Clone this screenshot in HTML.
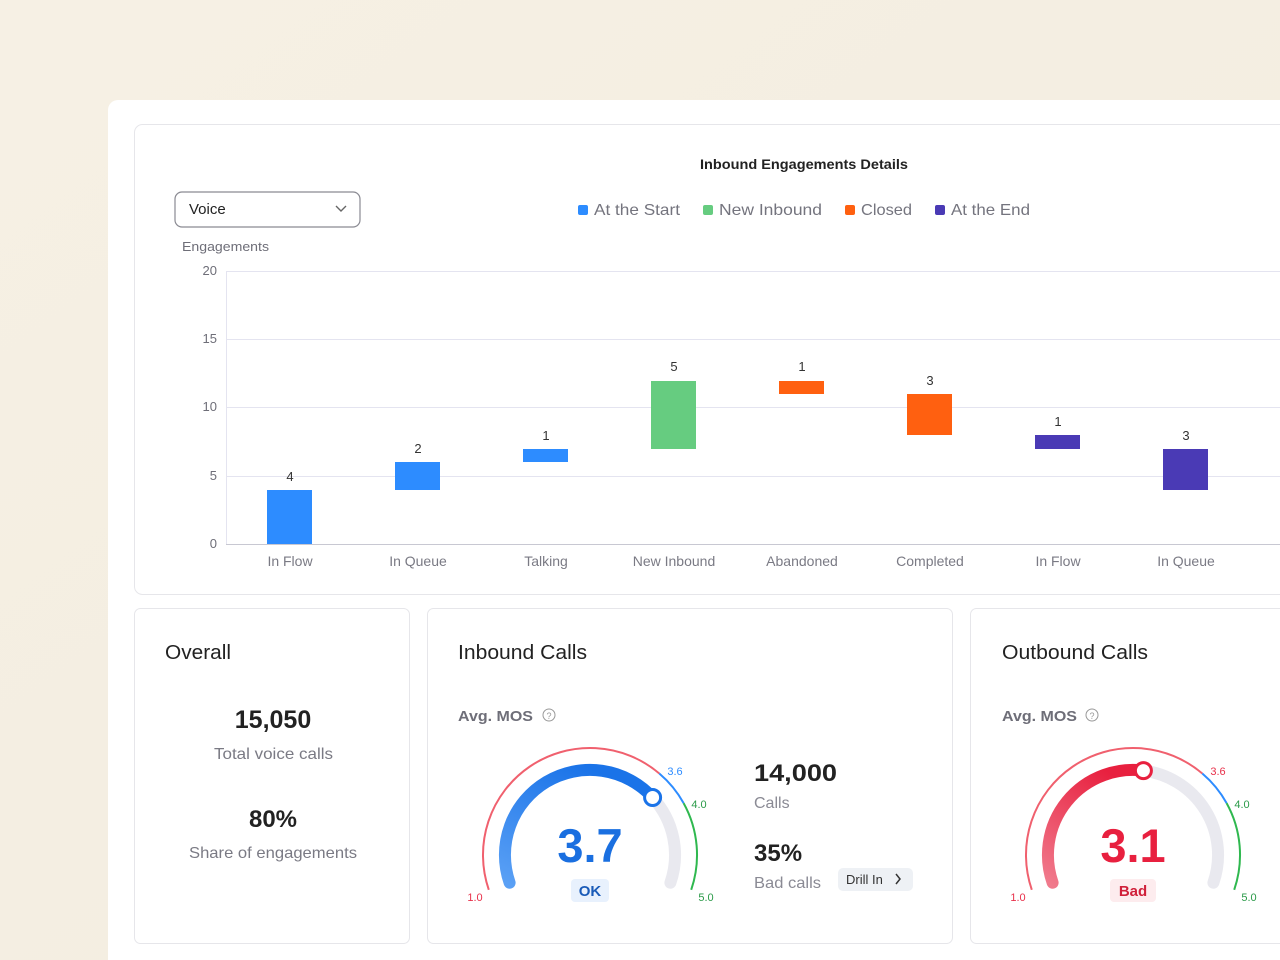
<!DOCTYPE html>
<html><head><meta charset="utf-8"><style>
html,body{margin:0;padding:0;width:1280px;height:960px;overflow:hidden;background:#f4eee2;}
svg{display:block;font-family:"Liberation Sans",sans-serif;}
</style></head><body>
<svg width="1280" height="960" viewBox="0 0 1280 960">
<defs>
<linearGradient id="bg" x1="0" y1="0" x2="1" y2="1"><stop offset="0" stop-color="#f6f0e4"/><stop offset="1" stop-color="#f2ecdf"/></linearGradient>
<linearGradient id="gb" x1="0" y1="1" x2="0.6" y2="0"><stop offset="0" stop-color="#5aa0f5"/><stop offset="1" stop-color="#1a73e8"/></linearGradient>
<linearGradient id="gr" x1="0" y1="1" x2="0.6" y2="0"><stop offset="0" stop-color="#f07a8c"/><stop offset="1" stop-color="#e8203f"/></linearGradient>
</defs>
<rect width="1280" height="960" fill="url(#bg)"/>
<rect x="108" y="100" width="1200" height="900" rx="10" fill="#fff"/>
<rect x="134.5" y="124.5" width="1180" height="470" rx="8" fill="#fff" stroke="#e6e6ea"/>
<text x="700" y="169" font-size="14" font-weight="bold" fill="#222" textLength="208" lengthAdjust="spacingAndGlyphs">Inbound Engagements Details</text>
<rect x="175" y="192" width="185" height="35" rx="7" fill="#fff" stroke="#8a8a92" stroke-width="1.2"/>
<text x="189" y="214" font-size="15" fill="#222">Voice</text>
<path d="M336 206 l5 5 l5 -5" fill="none" stroke="#666" stroke-width="1.4"/>
<g font-size="16" fill="#74747e">
<rect x="578" y="205" width="10" height="10" rx="2" fill="#2d8cff"/><text x="594" y="215" textLength="86" lengthAdjust="spacingAndGlyphs">At the Start</text>
<rect x="703" y="205" width="10" height="10" rx="2" fill="#66cc80"/><text x="719" y="215" textLength="103" lengthAdjust="spacingAndGlyphs">New Inbound</text>
<rect x="845" y="205" width="10" height="10" rx="2" fill="#ff6010"/><text x="861" y="215" textLength="51" lengthAdjust="spacingAndGlyphs">Closed</text>
<rect x="935" y="205" width="10" height="10" rx="2" fill="#4a3ab5"/><text x="951" y="215" textLength="79" lengthAdjust="spacingAndGlyphs">At the End</text>
</g>
<text x="182" y="251" font-size="13" fill="#6e6e78" textLength="87" lengthAdjust="spacingAndGlyphs">Engagements</text>
<g stroke="#e4e4f0" stroke-width="1">
<line x1="226" y1="271.5" x2="1280" y2="271.5"/><line x1="226" y1="339.5" x2="1280" y2="339.5"/>
<line x1="226" y1="407.5" x2="1280" y2="407.5"/><line x1="226" y1="476.5" x2="1280" y2="476.5"/>
<line x1="226.5" y1="271" x2="226.5" y2="544"/>
</g>
<line x1="226" y1="544.5" x2="1280" y2="544.5" stroke="#c8c8d2"/>
<g font-size="13" fill="#6e6e78" text-anchor="end">
<text x="217" y="275">20</text><text x="217" y="343">15</text><text x="217" y="411">10</text><text x="217" y="480">5</text><text x="217" y="548">0</text>
</g>
<rect x="267" y="490" width="45" height="54" fill="#2d8cff"/>
<rect x="395" y="462" width="45" height="28" fill="#2d8cff"/>
<rect x="523" y="449" width="45" height="13" fill="#2d8cff"/>
<rect x="651" y="381" width="45" height="68" fill="#66cc80"/>
<rect x="779" y="381" width="45" height="13" fill="#ff6010"/>
<rect x="907" y="394" width="45" height="41" fill="#ff6010"/>
<rect x="1035" y="435" width="45" height="14" fill="#4a3ab5"/>
<rect x="1163" y="449" width="45" height="41" fill="#4a3ab5"/>
<g font-size="13" fill="#333" text-anchor="middle">
<text x="290" y="481">4</text><text x="418" y="453">2</text><text x="546" y="440">1</text><text x="674" y="371">5</text>
<text x="802" y="371">1</text><text x="930" y="385">3</text><text x="1058" y="426">1</text><text x="1186" y="440">3</text>
</g>
<g font-size="14" fill="#7a7a84" text-anchor="middle">
<text x="290" y="566">In Flow</text><text x="418" y="566">In Queue</text><text x="546" y="566">Talking</text><text x="674" y="566">New Inbound</text>
<text x="802" y="566">Abandoned</text><text x="930" y="566">Completed</text><text x="1058" y="566">In Flow</text><text x="1186" y="566">In Queue</text>
</g>
<rect x="134.5" y="608.5" width="275" height="335" rx="6" fill="#fff" stroke="#e6e6ea"/>
<rect x="427.5" y="608.5" width="525" height="335" rx="6" fill="#fff" stroke="#e6e6ea"/>
<rect x="970.5" y="608.5" width="340" height="335" rx="6" fill="#fff" stroke="#e6e6ea"/>
<text x="165" y="659" font-size="20" fill="#222" textLength="66" lengthAdjust="spacingAndGlyphs">Overall</text>
<text x="273" y="728" text-anchor="middle" font-size="25" font-weight="bold" fill="#222">15,050</text>
<text x="214" y="759" font-size="16" fill="#7a7a84" textLength="119" lengthAdjust="spacingAndGlyphs">Total voice calls</text>
<text x="273" y="827" text-anchor="middle" font-size="24" font-weight="bold" fill="#222">80%</text>
<text x="189" y="858" font-size="16" fill="#7a7a84" textLength="168" lengthAdjust="spacingAndGlyphs">Share of engagements</text>

<text x="458" y="659" font-size="20" fill="#222" textLength="129" lengthAdjust="spacingAndGlyphs">Inbound Calls</text>
<text x="458" y="721" font-size="15" font-weight="bold" fill="#6e6e78" textLength="75" lengthAdjust="spacingAndGlyphs">Avg. MOS</text>
<circle cx="549" cy="715" r="6" fill="none" stroke="#999"/><text x="549" y="719" text-anchor="middle" font-size="9" fill="#999">?</text>
<path d="M488.8 889.8 A107 107 0 0 1 659.3 773.5" fill="none" stroke="#f0606e" stroke-width="2"/>
<path d="M659.3 773.5 A107 107 0 0 1 683.6 803.1" fill="none" stroke="#2d8cff" stroke-width="2"/>
<path d="M683.6 803.1 A107 107 0 0 1 691.2 889.8" fill="none" stroke="#2fb84f" stroke-width="2"/>
<path d="M652.6 797.5 A85 85 0 0 1 670.4 882.7" fill="none" stroke="#e9e9ef" stroke-width="12" stroke-linecap="round"/>
<path d="M509.6 882.7 A85 85 0 0 1 652.6 797.5" fill="none" stroke="url(#gb)" stroke-width="12" stroke-linecap="round"/>
<circle cx="652.6" cy="797.5" r="8" fill="#fff" stroke="#1a73e8" stroke-width="3"/>
<text x="675" y="775" text-anchor="middle" font-size="11" fill="#2d8cff">3.6</text>
<text x="699" y="808" text-anchor="middle" font-size="11" fill="#2a9a48">4.0</text>
<text x="475" y="901" text-anchor="middle" font-size="11" fill="#e8304a">1.0</text>
<text x="706" y="901" text-anchor="middle" font-size="11" fill="#2a9a48">5.0</text>
<text x="590" y="862" text-anchor="middle" font-size="47" font-weight="bold" fill="#1a6fe0">3.7</text>
<rect x="571" y="879" width="38" height="23" rx="4" fill="#e8f1fd"/>
<text x="590" y="896" text-anchor="middle" font-size="15" font-weight="bold" fill="#1a5bb8">OK</text>
<text x="754" y="781" font-size="24" font-weight="bold" fill="#222" textLength="83" lengthAdjust="spacingAndGlyphs">14,000</text>
<text x="754" y="808" font-size="16" fill="#8a8a94">Calls</text>
<text x="754" y="861" font-size="24" font-weight="bold" fill="#222">35%</text>
<text x="754" y="888" font-size="16" fill="#8a8a94" textLength="67" lengthAdjust="spacingAndGlyphs">Bad calls</text>
<rect x="838" y="868" width="75" height="23" rx="5" fill="#eef1f5"/>
<text x="846" y="884" font-size="13" fill="#333">Drill In</text>
<path d="M896 874 l4 5 l-4 5" fill="none" stroke="#333" stroke-width="1.5"/>

<text x="1002" y="659" font-size="20" fill="#222" textLength="146" lengthAdjust="spacingAndGlyphs">Outbound Calls</text>
<text x="1002" y="721" font-size="15" font-weight="bold" fill="#6e6e78" textLength="75" lengthAdjust="spacingAndGlyphs">Avg. MOS</text>
<circle cx="1092" cy="715" r="6" fill="none" stroke="#999"/><text x="1092" y="719" text-anchor="middle" font-size="9" fill="#999">?</text>
<path d="M1031.8 889.8 A107 107 0 0 1 1202.3 773.5" fill="none" stroke="#f0606e" stroke-width="2"/>
<path d="M1202.3 773.5 A107 107 0 0 1 1226.6 803.1" fill="none" stroke="#2d8cff" stroke-width="2"/>
<path d="M1226.6 803.1 A107 107 0 0 1 1234.2 889.8" fill="none" stroke="#2fb84f" stroke-width="2"/>
<path d="M1143.4 770.6 A85 85 0 0 1 1213.4 882.7" fill="none" stroke="#e9e9ef" stroke-width="12" stroke-linecap="round"/>
<path d="M1052.6 882.7 A85 85 0 0 1 1143.4 770.6" fill="none" stroke="url(#gr)" stroke-width="12" stroke-linecap="round"/>
<circle cx="1143.4" cy="770.6" r="8" fill="#fff" stroke="#e8203f" stroke-width="3"/>
<text x="1218" y="775" text-anchor="middle" font-size="11" fill="#e8304a">3.6</text>
<text x="1242" y="808" text-anchor="middle" font-size="11" fill="#2a9a48">4.0</text>
<text x="1018" y="901" text-anchor="middle" font-size="11" fill="#e8304a">1.0</text>
<text x="1249" y="901" text-anchor="middle" font-size="11" fill="#2a9a48">5.0</text>
<text x="1133" y="862" text-anchor="middle" font-size="47" font-weight="bold" fill="#e8203f">3.1</text>
<rect x="1110" y="879" width="46" height="23" rx="4" fill="#fdecee"/>
<text x="1133" y="896" text-anchor="middle" font-size="15" font-weight="bold" fill="#d0203a">Bad</text>
</svg>
</body></html>
